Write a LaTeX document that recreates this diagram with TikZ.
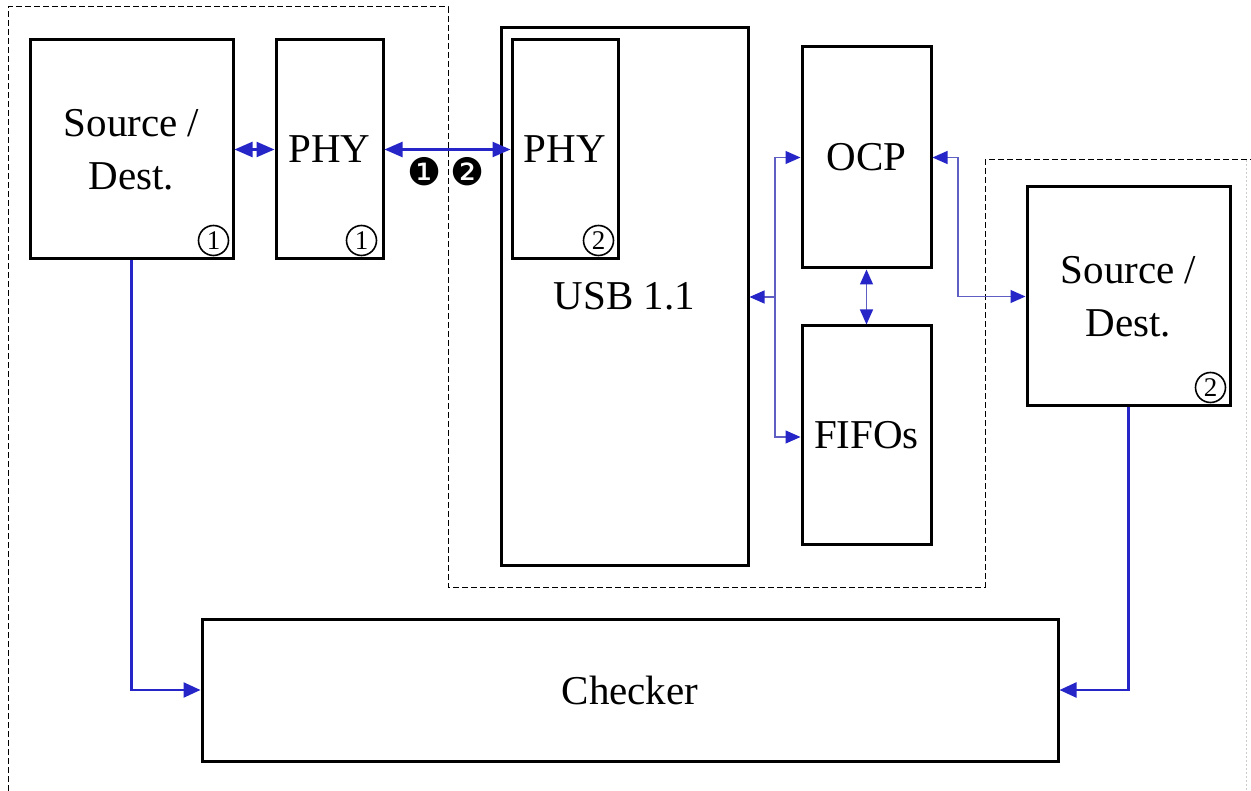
\documentclass[tikz,border=0pt]{standalone}
\usepackage{fontspec}
\setmainfont{Liberation Serif}
\newfontfamily\djv{DejaVu Sans}
\usetikzlibrary{arrows.meta,calc}
\definecolor{mblue}{RGB}{38,38,200}
\definecolor{tblue}{RGB}{95,95,195}
\begin{document}
\begin{tikzpicture}[x=1pt,y=-1pt,
  box/.style={draw=black,line width=3pt,fill=white,inner sep=0pt,align=center,
    font=\fontsize{41}{53}\selectfont},
  cnum/.style={draw=black,circle,line width=1.6pt,minimum size=30pt,inner sep=0pt,
    font=\fontsize{27}{27}\selectfont},
  bnum/.style={font=\djv\fontsize{38}{38}\selectfont,inner sep=0pt},
  mainarr/.style={draw=mblue,line width=2.4pt,-{Triangle[length=17pt,width=15pt]}},
  thinarr/.style={draw=tblue,line width=1.2pt,color=tblue,
    {Triangle[length=15pt,width=13pt,color=mblue]}-{Triangle[length=15pt,width=13pt,color=mblue]}},
  phyarr/.style={draw=mblue,line width=2.4pt,
    {Triangle[length=18pt,width=15pt]}-{Triangle[length=18pt,width=15pt]}},
  dsh/.style={draw=black,line width=1pt,dash pattern=on 6pt off 3pt}
]
\useasboundingbox (0,0) rectangle (1251,791);
\fill[white] (0,0) rectangle (1251,791);
% dashed regions
\draw[dsh] (8,791) -- (8,7) -- (448,7) -- (448,587) -- (985,587) -- (985,160) -- (1251,160);
\draw[gray!40,line width=0.8pt,dash pattern=on 2pt off 2pt] (1246,160) -- (1246,791);
% boxes
\node[box,minimum width=203pt,minimum height=219pt] (s1) at (131.5,149.5) {Source /\\Dest.};
\node[box,minimum width=107pt,minimum height=219pt] (p1) at (329.5,149.5) {PHY};
\node[box,minimum width=247pt,minimum height=537pt] (usb) at (624.5,296.5) {USB 1.1};
\node[box,minimum width=106pt,minimum height=219pt] (p2) at (565,149.5) {PHY};
\node[box,minimum width=129pt,minimum height=221pt] (ocp) at (866.5,157.5) {OCP};
\node[box,minimum width=129pt,minimum height=218pt] (fifo) at (866.5,435) {FIFOs};
\node[box,minimum width=203pt,minimum height=219pt] (s2) at (1128.5,296.5) {Source /\\Dest.};
\node[box,minimum width=856pt,minimum height=142pt] (chk) at (630,690) {Checker};
% circled numbers
\node[cnum] (n1) at ($(s1.south east)+(-21,-20)$) {1};
\node[cnum] (n2) at ($(p1.south east)+(-23,-20)$) {1};
\node[cnum] (n3) at ($(p2.south east)+(-21,-20)$) {2};
\node[cnum] (n4) at ($(s2.south east)+(-21,-20)$) {2};
\node[bnum] (b1) at (425,172) {❶};
\node[bnum] (b2) at (468,172) {❷};
% connectors
\draw[phyarr] (s1.east) -- (p1.west);
\draw[phyarr] (p1.east) -- (p2.west);
\coordinate (busT) at (775,157.5);
\coordinate (busU) at (775,297);
\coordinate (busB) at (775,437);
\draw[thinarr] (ocp.west) -- (busT) -- (busB) -- (busB -| fifo.west);
\draw[draw=tblue,line width=1.2pt,-{Triangle[length=15pt,width=13pt,color=mblue]}] (busU) -- (busU -| usb.east);
\draw[thinarr] (ocp.south) -- (fifo.north);
\coordinate (rT) at (958,157.5);
\coordinate (rB) at (958,296.5);
\draw[thinarr] (ocp.east) -- (rT) -- (rB) -- (s2.west);
\draw[mainarr] (s1.south) |- (chk.west);
\draw[mainarr] (s2.south) |- (chk.east);
\end{tikzpicture}
\end{document}
